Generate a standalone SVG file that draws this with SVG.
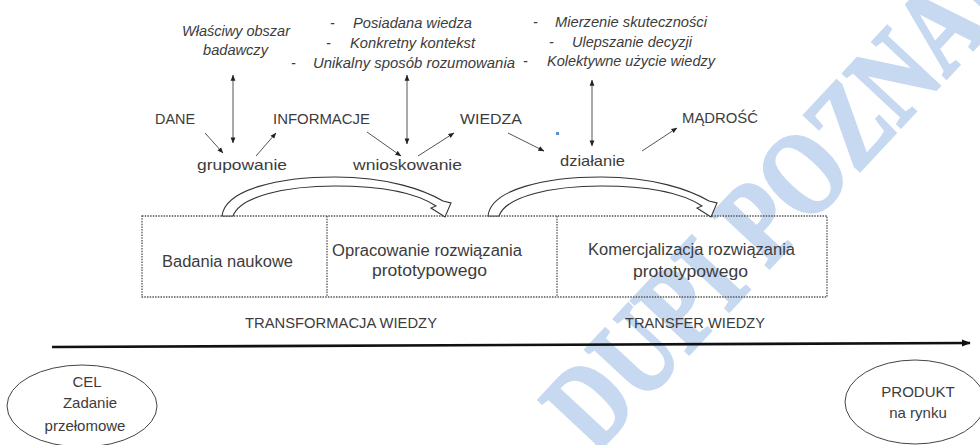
<svg xmlns="http://www.w3.org/2000/svg" width="980" height="445" viewBox="0 0 980 445">
<style>
.t{font-family:"Liberation Sans",Arial,sans-serif;fill:#3c3c3c;font-size:15px}
.b{font-size:16px}
.i{font-family:"Liberation Sans",Arial,sans-serif;fill:#3c3c3c;font-size:14px;font-style:italic}
.c{stroke:#555;stroke-width:1;fill:none}
.box{fill:none;stroke:#555;stroke-width:1.3;stroke-dasharray:1.5 1.2}
.blk{fill:#fff;stroke:#333;stroke-width:1.1}
.wm{font-family:"Liberation Serif","Times New Roman",serif;font-weight:bold;fill:#c6d9f1;stroke:#c6d9f1;stroke-width:3;font-size:120px}
</style>
<defs>
<marker id="ah" viewBox="0 0 8 8" refX="7.5" refY="4" markerWidth="6" markerHeight="6" markerUnits="userSpaceOnUse" orient="auto-start-reverse"><path d="M0,0.8 L8,4 L0,7.2 z" fill="#222"/></marker>
<marker id="ax" viewBox="0 0 10 10" refX="9" refY="5" markerWidth="9" markerHeight="9" markerUnits="userSpaceOnUse" orient="auto"><path d="M0,1 L10,5 L0,9 z" fill="#111"/></marker>
</defs>
<rect width="980" height="445" fill="#fff"/>
<g id="watermark"><text class="wm" transform="translate(595,455) rotate(-47)" textLength="650" lengthAdjust="spacingAndGlyphs">DUPI POZNAŃ</text></g>
<g id="top-notes">
<text class="i" x="182" y="36" textLength="108" lengthAdjust="spacingAndGlyphs">Właściwy obszar</text>
<text class="i" x="203" y="55" textLength="65" lengthAdjust="spacingAndGlyphs">badawczy</text>
<text class="i" x="330" y="28">-</text>
<text class="i" x="353" y="28" textLength="119" lengthAdjust="spacingAndGlyphs">Posiadana wiedza</text>
<text class="i" x="326" y="48">-</text>
<text class="i" x="350" y="48" textLength="125" lengthAdjust="spacingAndGlyphs">Konkretny kontekst</text>
<text class="i" x="291" y="68">-</text>
<text class="i" x="313" y="68" textLength="202" lengthAdjust="spacingAndGlyphs">Unikalny sposób rozumowania</text>
<text class="i" x="533" y="27">-</text>
<text class="i" x="555" y="27" textLength="152" lengthAdjust="spacingAndGlyphs">Mierzenie skuteczności</text>
<text class="i" x="549" y="47">-</text>
<text class="i" x="572" y="47" textLength="120" lengthAdjust="spacingAndGlyphs">Ulepszanie decyzji</text>
<text class="i" x="523" y="66">-</text>
<text class="i" x="547" y="66" textLength="168" lengthAdjust="spacingAndGlyphs">Kolektywne użycie wiedzy</text>
</g>
<g id="dane"><text class="t" x="155" y="124" textLength="40" lengthAdjust="spacingAndGlyphs">DANE</text></g>
<g id="informacje"><text class="t" x="273" y="124" textLength="97" lengthAdjust="spacingAndGlyphs">INFORMACJE</text></g>
<g id="wiedza"><text class="t" x="460" y="124" textLength="62" lengthAdjust="spacingAndGlyphs">WIEDZA</text></g>
<g id="madrosc"><text class="t" x="682" y="123" textLength="76" lengthAdjust="spacingAndGlyphs">MĄDROŚĆ</text></g>
<g id="grupowanie"><text class="t" x="197" y="170" textLength="90" lengthAdjust="spacingAndGlyphs">grupowanie</text></g>
<g id="wnioskowanie"><text class="t" x="353" y="170" textLength="109" lengthAdjust="spacingAndGlyphs">wnioskowanie</text></g>
<g id="dzialanie"><text class="t" x="560" y="166" textLength="65" lengthAdjust="spacingAndGlyphs">działanie</text></g>
<rect x="556" y="132" width="3" height="3" fill="#5b8fd0"/>
<g id="stages">
<rect class="box" x="142" y="216" width="685" height="81"/>
<line class="box" x1="327" y1="216" x2="327" y2="297"/>
<line class="box" x1="557" y1="216" x2="557" y2="297"/>
</g>
<g id="badania"><text class="t b" x="162" y="267" textLength="131" lengthAdjust="spacingAndGlyphs">Badania naukowe</text></g>
<g id="opracowanie">
<text class="t b" x="332" y="256" textLength="190" lengthAdjust="spacingAndGlyphs">Opracowanie rozwiązania</text>
<text class="t b" x="372" y="276" textLength="115" lengthAdjust="spacingAndGlyphs">prototypowego</text>
</g>
<g id="komercjalizacja">
<text class="t b" x="588" y="255" textLength="207" lengthAdjust="spacingAndGlyphs">Komercjalizacja rozwiązania</text>
<text class="t b" x="633" y="277" textLength="115" lengthAdjust="spacingAndGlyphs">prototypowego</text>
</g>
<g id="connectors">
<path class="c" d="M205,133 L223,153" marker-end="url(#ah)"/>
<path class="c" d="M256,156 L276,133" marker-end="url(#ah)"/>
<path class="c" d="M233,75 L233,143" marker-start="url(#ah)" marker-end="url(#ah)"/>
<path class="c" d="M367,132 L401,156" marker-end="url(#ah)"/>
<path class="c" d="M418,156 L454,133" marker-end="url(#ah)"/>
<path class="c" d="M407,75 L407,144" marker-start="url(#ah)" marker-end="url(#ah)"/>
<path class="c" d="M508,133 L544,151" marker-end="url(#ah)"/>
<path class="c" d="M592,80 L592,146" marker-start="url(#ah)" marker-end="url(#ah)"/>
<path class="c" d="M642,151 L677,128" marker-end="url(#ah)"/>
<path class="blk" d="M222,216 C225,189 280,177 335,177 C388,177 424,190 443,201 L451,203 L445,217 L431,208 L436,206 C418,194 385,186 335,186 C287,186 240,196 233,216 Z"/>
<path class="blk" transform="translate(266,0)" d="M222,216 C225,189 280,177 335,177 C388,177 424,190 443,201 L451,203 L445,217 L431,208 L436,206 C418,194 385,186 335,186 C287,186 240,196 233,216 Z"/>
<path d="M52,347 L970,343" stroke="#111" stroke-width="2.6" fill="none" marker-end="url(#ax)"/>
</g>
<g id="transformacja"><text class="t" x="245" y="328" textLength="192" lengthAdjust="spacingAndGlyphs">TRANSFORMACJA WIEDZY</text></g>
<g id="transfer"><text class="t" x="625" y="328" textLength="140" lengthAdjust="spacingAndGlyphs">TRANSFER WIEDZY</text></g>
<g id="cel">
<ellipse cx="82" cy="406" rx="75" ry="41" fill="none" stroke="#444" stroke-width="1"/>
<text class="t" x="87" y="387" text-anchor="middle">CEL</text>
<text class="t" x="90" y="408" text-anchor="middle">Zadanie</text>
<text class="t" x="85" y="431" text-anchor="middle">przełomowe</text>
</g>
<g id="produkt">
<ellipse cx="915" cy="402" rx="70" ry="42" fill="none" stroke="#444" stroke-width="1"/>
<text class="t" x="918" y="397" text-anchor="middle">PRODUKT</text>
<text class="t" x="918" y="418" text-anchor="middle">na rynku</text>
</g>
</svg>
